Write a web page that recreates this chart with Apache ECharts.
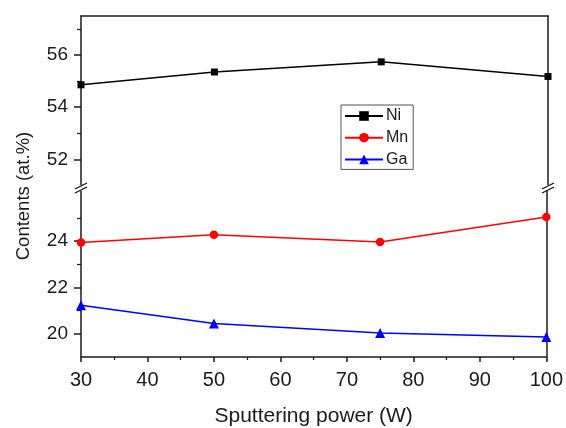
<!DOCTYPE html>
<html>
<head>
<meta charset="utf-8">
<script src="https://cdn.jsdelivr.net/npm/echarts@6/dist/echarts.min.js"></script>
<style>html,body{margin:0;padding:0;background:#fff;}#c{width:566px;height:428px;}</style>
</head>
<body>
<div id="c"></div>
<script>
const power = [30, 50, 75, 100];
const ni = [54.86, 55.35, 55.74, 55.18];
const mn = [23.95, 24.28, 23.97, 25.05];
const ga = [21.24, 20.45, 20.04, 19.86];
const upperMajor = [52, 54, 56];
const upperMinor = [51, 53, 55, 57];
const lowerMajor = [20, 22, 24];
const lowerMinor = [21, 23, 25];

const FONT = 'Liberation Sans';
const AX = '#1a1a1a';
const L = 81, R = 18, T = 16, BRK = 188, BOT = 66;

const chart = echarts.init(document.getElementById('c'), null, {renderer: 'canvas'});
const pair = (xs, ys) => xs.map((x, i) => [x, ys[i]]);

function yAx(grid, min, max, opts) {
  return Object.assign({
    type: 'value', gridIndex: grid, min: min, max: max,
    splitLine: {show: false},
    axisLine: {show: true, onZero: false, lineStyle: {color: AX, width: 1.5}},
    axisTick: {show: false},
    axisLabel: {show: false}
  }, opts);
}
const yLabel = (vals) => ({show: true, customValues: vals, fontSize: 19, color: '#1a1a1a', margin: 13, fontFamily: FONT});

const option = {
  animation: false,
  backgroundColor: '#fff',
  textStyle: {fontFamily: FONT},
  grid: [
    {left: L, right: R, top: T, height: BRK - T},
    {left: L, right: R, top: BRK, bottom: BOT}
  ],
  xAxis: [
    {type: 'value', gridIndex: 0, min: 30, max: 100, position: 'top',
     splitLine: {show: false}, axisTick: {show: false}, axisLabel: {show: false},
     axisLine: {show: true, onZero: false, lineStyle: {color: AX, width: 1.5}}},
    {type: 'value', gridIndex: 1, min: 30, max: 100, interval: 10, position: 'bottom',
     splitLine: {show: false},
     axisLine: {show: true, onZero: false, lineStyle: {color: AX, width: 1.5}},
     axisTick: {show: true, length: 5, lineStyle: {color: AX, width: 1.5}},
     minorTick: {show: true, splitNumber: 2, length: 3, lineStyle: {color: AX, width: 1.2}},
     axisLabel: {show: true, fontSize: 20, color: '#1a1a1a', margin: 13, fontFamily: FONT},
     name: 'Sputtering power (W)', nameLocation: 'middle', nameGap: 49,
     nameTextStyle: {fontSize: 21, color: '#1a1a1a', fontFamily: FONT}}
  ],
  yAxis: [
    yAx(0, 50.9, 57.5, {position: 'left',
      axisTick: {show: true, length: 7, customValues: upperMajor, lineStyle: {color: AX, width: 1.5}},
      axisLabel: yLabel(upperMajor)}),
    yAx(1, 19, 26.3, {position: 'left',
      axisTick: {show: true, length: 7, customValues: lowerMajor, lineStyle: {color: AX, width: 1.5}},
      axisLabel: yLabel(lowerMajor)}),
    yAx(0, 50.9, 57.5, {position: 'right'}),
    yAx(1, 19, 26.3, {position: 'right'}),
    yAx(0, 50.9, 57.5, {position: 'left', axisLine: {show: false},
      axisTick: {show: true, length: 4, customValues: upperMinor, lineStyle: {color: AX, width: 1.2}}}),
    yAx(1, 19, 26.3, {position: 'left', axisLine: {show: false},
      axisTick: {show: true, length: 4, customValues: lowerMinor, lineStyle: {color: AX, width: 1.2}}})
  ],
  legend: {
    orient: 'vertical', left: 341, top: 105,
    data: ['Ni', 'Mn', 'Ga'],
    itemWidth: 38, itemHeight: 12, itemGap: 5.7, padding: [3, 5, 2, 3],
    borderColor: '#555', borderWidth: 1, borderRadius: 0,
    textStyle: {fontSize: 16, lineHeight: 16, color: '#1a1a1a', fontFamily: FONT, padding: [0, 0, 0, -2]}
  },
  series: [
    {name: 'Ni', type: 'line', xAxisIndex: 0, yAxisIndex: 0, data: pair(power, ni),
     symbol: 'rect', symbolSize: 7, color: '#000', lineStyle: {width: 1.5, color: '#000'}, clip: false},
    {name: 'Mn', type: 'line', xAxisIndex: 1, yAxisIndex: 1, data: pair(power, mn),
     symbol: 'circle', symbolSize: 8.5, color: '#ff0000', lineStyle: {width: 1.5, color: '#ff0000'}, clip: false},
    {name: 'Ga', type: 'line', xAxisIndex: 1, yAxisIndex: 1, data: pair(power, ga),
     symbol: 'triangle', symbolSize: 10, color: '#0000ff', lineStyle: {width: 1.5, color: '#0000ff'}, clip: false}
  ]
};
chart.setOption(option);

// decorations: axis title and break marks
const W = chart.getWidth();
const xr = W - R;
function breakMark(x) {
  return [
    {type: 'rect', shape: {x: x - 4, y: BRK - 3, width: 8, height: 6}, style: {fill: '#fff'}, z: 100},
    {type: 'line', shape: {x1: x - 6, y1: BRK + 1, x2: x + 6, y2: BRK - 5}, style: {stroke: AX, lineWidth: 1.3}, z: 101},
    {type: 'line', shape: {x1: x - 6, y1: BRK + 5, x2: x + 6, y2: BRK - 1}, style: {stroke: AX, lineWidth: 1.3}, z: 101}
  ];
}
chart.setOption({
  graphic: [
    {type: 'text', x: 24, y: 196, rotation: Math.PI / 2,
     style: {text: 'Contents (at.%)', font: '18.5px "' + FONT + '"', fill: '#1a1a1a', align: 'center', verticalAlign: 'middle'}}
  ].concat(breakMark(L), breakMark(xr))
});
</script>
</body>
</html>
